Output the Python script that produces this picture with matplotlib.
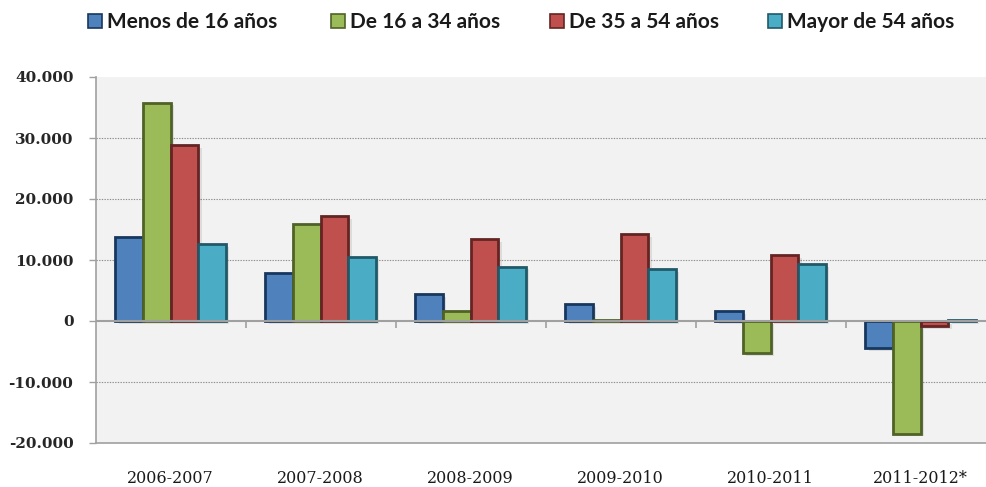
import matplotlib
matplotlib.use('Agg')
import matplotlib.pyplot as plt
import numpy as np
from matplotlib.patches import Patch
from matplotlib.ticker import FuncFormatter, FixedLocator

categories = ['2006-2007', '2007-2008', '2008-2009', '2009-2010', '2010-2011', '2011-2012*']
series_names = ['Menos de 16 años', 'De 16 a 34 años', 'De 35 a 54 años', 'Mayor de 54 años']
menos_16 = [13800, 7900, 4400, 2750, 1600, -4450]
de_16_34 = [35800, 15850, 1600, 200, -5300, -18450]
de_35_54 = [28850, 17250, 13400, 14200, 10800, -900]
mayor_54 = [12600, 10550, 8900, 8450, 9300, 200]
y_ticks = [-20000, -10000, 0, 10000, 20000, 30000, 40000]

series = [menos_16, de_16_34, de_35_54, mayor_54]
fills = ['#4F81BD', '#9BBB59', '#C0504D', '#4BACC6']
edges = ['#17375E', '#4F6228', '#632523', '#215968']

W, H = 987, 487
fig = plt.figure(figsize=(W / 100, H / 100), dpi=100)
fig.patch.set_facecolor('white')
ax = fig.add_axes([95.7 / W, 1 - 443 / H, 900 / W, (443 - 77) / H])
ax.set_facecolor('#F2F2F2')

x = np.arange(len(categories))
bw = 0.1845
offs = np.array([-1.5, -0.5, 0.5, 1.5]) * bw

# soft shadows
for i, vals in enumerate(series):
    ax.bar(x + offs[i] + 0.022, vals, bw, bottom=-450, color='black', alpha=0.09,
           linewidth=0, zorder=2)
    ax.bar(x + offs[i] + 0.012, vals, bw, bottom=-250, color='black', alpha=0.07,
           linewidth=0, zorder=2)

for i, vals in enumerate(series):
    ax.bar(x + offs[i], vals, bw, color=fills[i], edgecolor=edges[i], linewidth=2.0,
           zorder=3, label=series_names[i])

ax.set_xlim(-0.5, len(categories) - 0.5)
ax.set_ylim(-20000, 40000)

# gridlines
for yv in y_ticks:
    if yv in (-20000, 0, 40000):
        continue
    ax.axhline(yv, color='#8C8C8C', lw=0.8, linestyle=(0, (1.2, 1.2)), zorder=1)
ax.axhline(0, color='#A0A0A0', lw=1.5, zorder=4)
ax.vlines(x[:-1] + 0.5, -1100, 0, color='#A0A0A0', lw=1.2, zorder=4)

ax.yaxis.set_major_locator(FixedLocator(y_ticks))
ax.yaxis.set_major_formatter(FuncFormatter(lambda v, p: f'{int(v):,}'.replace(',', '.')))
ax.tick_params(axis='y', direction='out', length=5, width=1, color='#A0A0A0', pad=11,
               labelsize=11, labelcolor='#262626')
for lab in ax.get_yticklabels():
    lab.set_family('DejaVu Serif')
    lab.set_fontweight('bold')

ax.set_xticks(x)
ax.set_xticklabels(categories, family='DejaVu Serif', fontsize=11.5, color='#1a1a1a')
ax.tick_params(axis='x', length=0, pad=19.5)

for s in ('top', 'right'):
    ax.spines[s].set_visible(False)
for s in ('left', 'bottom'):
    ax.spines[s].set_color('#A0A0A0')
    ax.spines[s].set_linewidth(1.2)

# legend entries
xs = [88, 331, 550, 768]
for i in range(4):
    h = Patch(facecolor=fills[i], edgecolor=edges[i], linewidth=1.2)
    leg = fig.legend([h], [series_names[i]], loc='center left',
                     bbox_to_anchor=(xs[i] / W, 1 - 22 / H), frameon=False,
                     handlelength=0.67, handleheight=0.67, handletextpad=0.25,
                     borderpad=0, borderaxespad=0,
                     prop={'family': 'Lato', 'size': 15, 'weight': 'bold'})
    for t in leg.get_texts():
        t.set_color('#1a1a1a')

fig.savefig('out.png', dpi=100, facecolor='white')
